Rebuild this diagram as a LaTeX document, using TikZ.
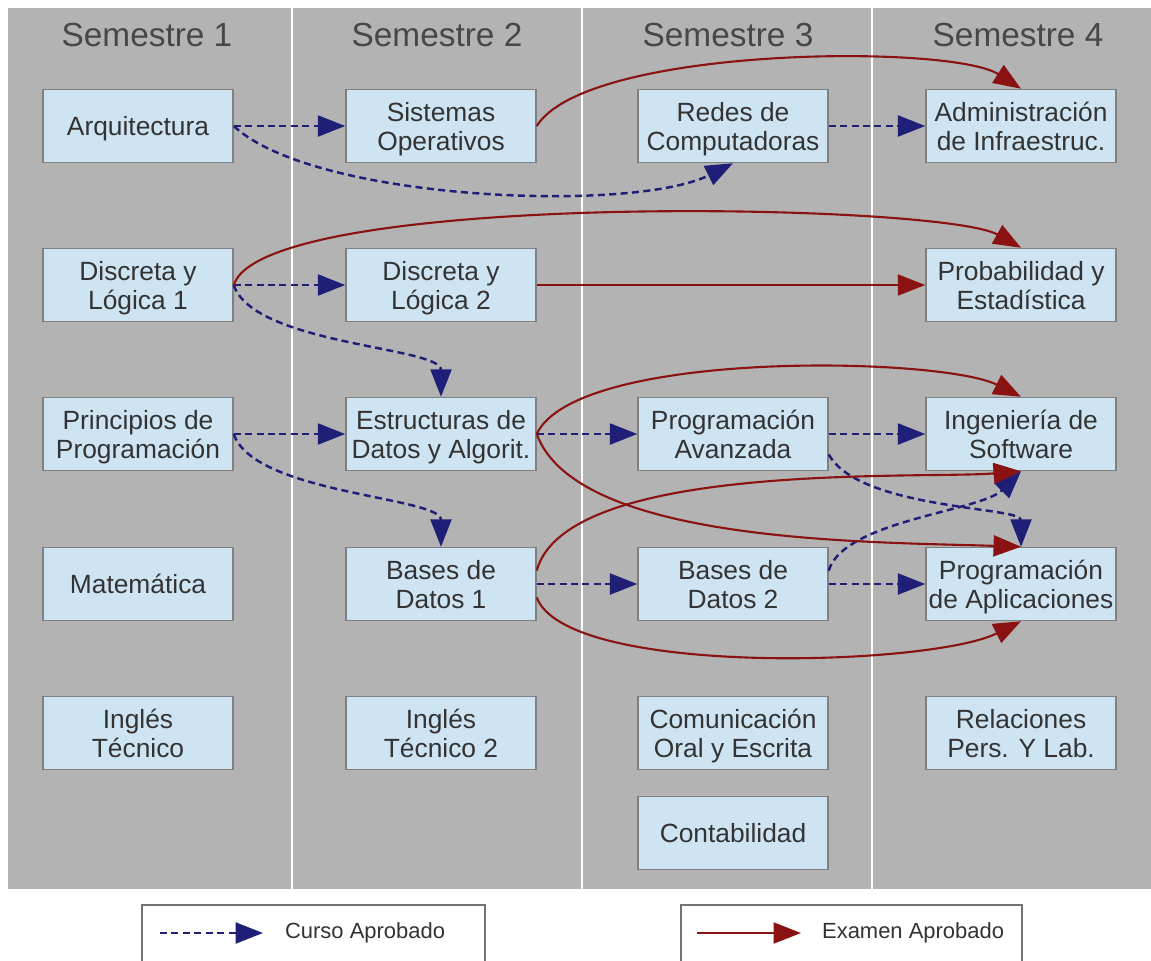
\documentclass[tikz,border=0pt]{standalone}
\usepackage{fontspec}
\setmainfont{Liberation Sans}
\usetikzlibrary{arrows.meta, positioning}

\definecolor{boxfill}{HTML}{CFE4F2}
\definecolor{panelgray}{HTML}{B3B3B3}
\definecolor{cursoblue}{HTML}{1F1F78}
\definecolor{examred}{HTML}{8B1212}

\begin{document}
\begin{tikzpicture}[
    x=0.02cm, y=-0.02cm,
    subject/.style={
        draw=black!50, line width=0.85pt, fill=boxfill, minimum width=3.8cm, minimum height=1.46cm,
        font=\fontsize{15}{16.5}\selectfont, align=center, text=black!80, inner sep=1pt,
        text depth=0pt
    },
    semester/.style={font=\fontsize{19}{22}\selectfont, text=black!72},
    curso/.style={
        -{Triangle[length=0.55cm, width=0.42cm]}, line width=1.4pt, cursoblue,
        dash pattern=on 4pt off 2.5pt
    },
    examen/.style={
        -{Triangle[length=0.55cm, width=0.42cm]}, line width=1.2pt, examred
    },
    legend/.style={draw=black!55, line width=0.85pt, fill=white, minimum height=1.4cm},
    lbl/.style={font=\fontsize{12.5}{14}\selectfont, text=black!80, anchor=west, inner sep=1pt}
]

\useasboundingbox (0,0) rectangle (1151,960);
\fill[panelgray] (8,8) rectangle (1151,889);
\foreach \sep in {292, 582, 872}
    \draw[white, line width=1.1pt] (\sep,8) -- (\sep,889);

\node[semester] (sem1) at (147,35) {Semestre 1};
\node[semester] (sem2) at (437,35) {Semestre 2};
\node[semester] (sem3) at (728,35) {Semestre 3};
\node[semester] (sem4) at (1018,35) {Semestre 4};

\node[subject] (arq) at (138,126) {Arquitectura};
\node[subject] (sisop) at (441,126) {Sistemas\\Operativos};
\node[subject] (redes) at (733,126) {Redes de\\Computadoras};
\node[subject] (admin) at (1021,126) {Administración\\de Infraestruc.};

\node[subject] (disc1) at (138,285) {Discreta y\\Lógica 1};
\node[subject] (disc2) at (441,285) {Discreta y\\Lógica 2};
\node[subject] (proba) at (1021,285) {Probabilidad y\\Estadística};

\node[subject] (princ) at (138,434) {Principios de\\Programación};
\node[subject] (estr) at (441,434) {Estructuras de\\Datos y Algorit.};
\node[subject] (progav) at (733,434) {Programación\\Avanzada};
\node[subject] (ingsw) at (1021,434) {Ingeniería de\\Software};

\node[subject] (mate) at (138,584) {Matemática};
\node[subject] (bd1) at (441,584) {Bases de\\Datos 1};
\node[subject] (bd2) at (733,584) {Bases de\\Datos 2};
\node[subject] (progapl) at (1021,584) {Programación\\de Aplicaciones};

\node[subject] (ingles1) at (138,733) {Inglés\\Técnico};
\node[subject] (ingles2) at (441,733) {Inglés\\Técnico 2};
\node[subject] (comun) at (733,733) {Comunicación\\Oral y Escrita};
\node[subject] (relac) at (1021,733) {Relaciones\\Pers. Y Lab.};
\node[subject] (conta) at (733,833) {Contabilidad};

% curso aprobado
\draw[curso] (arq.east) -- (sisop.west);
\draw[curso] (arq.east) .. controls +(80,75) and +(-100,50) .. (redes.south);
\draw[curso] (redes.east) -- (admin.west);
\draw[curso] (disc1.east) -- (disc2.west);
\draw[curso] (disc1.east) .. controls +(20,60) and +(0,-50) .. (estr.north);
\draw[curso] (princ.east) -- (estr.west);
\draw[curso] (princ.east) .. controls +(20,60) and +(0,-50) .. (bd1.north);
\draw[curso] (estr.east) -- (progav.west);
\draw[curso] (progav.east) -- (ingsw.west);
\draw[curso] (progav.-12) .. controls +(30,55) and +(0,-40) .. (progapl.north);
\draw[curso] (bd1.east) -- (bd2.west);
\draw[curso] (bd2.east) -- (progapl.west);
\draw[curso] (bd2.8) .. controls +(15,-50) and +(-40,40) .. (ingsw.south);

% examen aprobado
\draw[examen] (sisop.east) .. controls +(50,-80) and +(-70,-45) .. (admin.north);
\draw[examen] (disc1.east) .. controls +(30,-95) and +(-80,-45) .. (proba.north);
\draw[examen] (disc2.east) -- (proba.west);
\draw[examen] (estr.east) .. controls +(40,-85) and +(-80,-40) .. (ingsw.north);
\draw[examen] (estr.east) .. controls +(40,110) and +(-150,-5) .. (progapl.north);
\draw[examen] (bd1.8) .. controls +(30,-110) and +(-100,8) .. (ingsw.south);
\draw[examen] (bd1.-8) .. controls +(30,80) and +(-90,45) .. (progapl.south);

% legend
\node[legend, minimum width=6.86cm] (legcurso) at (313.5,940) {};
\node[legend, minimum width=6.82cm] (legexamen) at (851.5,940) {};
\coordinate (cursostart) at (160,933);
\coordinate (cursoend) at (263,933);
\node[lbl] (cursotext) at (283,933) {Curso Aprobado};
\draw[curso] (cursostart) -- (cursoend);
\coordinate (examenstart) at (697,933);
\coordinate (examenend) at (801,933);
\node[lbl] (examentext) at (820,933) {Examen Aprobado};
\draw[examen] (examenstart) -- (examenend);

\end{tikzpicture}
\end{document}
